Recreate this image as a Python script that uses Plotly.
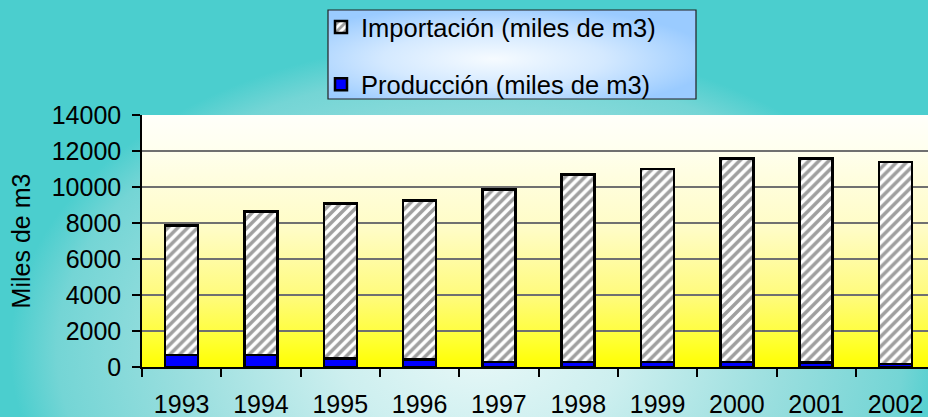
import base64
import plotly.graph_objects as go

# ---- data ----
years = ["1993", "1994", "1995", "1996", "1997", "1998", "1999", "2000", "2001", "2002"]
produccion = [680, 680, 460, 420, 280, 280, 280, 280, 260, 180]
importacion = [7170, 7970, 8620, 8840, 9590, 10410, 10720, 11290, 11310, 11210]
y_ticks = [0, 2000, 4000, 6000, 8000, 10000, 12000, 14000]
name_imp = "Importación (miles de m3)"
name_prod = "Producción (miles de m3)"
y_title = "Miles de m3"

FONT = "Arial, 'Liberation Sans', sans-serif"
W, H = 928, 417
ML, MR, MT, MB = 142, 0, 115, 50
PW, PH = W - ML - MR, H - MT - MB


def svg_uri(svg):
    return "data:image/svg+xml;base64," + base64.b64encode(svg.encode()).decode()


def px_x(px):
    return (px - ML) / PW


def px_y(py):
    return (H - MB - py) / PH


page_svg = f"""<svg xmlns='http://www.w3.org/2000/svg' width='{W}' height='{H}' viewBox='0 0 {W} {H}' preserveAspectRatio='none'>
<defs><radialGradient id='g' gradientUnits='userSpaceOnUse' cx='480' cy='350' r='470'
 gradientTransform='translate(480 350) scale(1 0.66) translate(-480 -350)'>
<stop offset='0' stop-color='#E8F8F8'/><stop offset='0.3' stop-color='#CDEFEF'/>
<stop offset='0.65' stop-color='#98DEDE'/><stop offset='0.9' stop-color='#74D5D5'/>
<stop offset='1' stop-color='#4BCECE'/></radialGradient></defs>
<rect x='0' y='0' width='{W}' height='{H}' fill='url(#g)'/></svg>"""

plot_svg = """<svg xmlns='http://www.w3.org/2000/svg' width='100' height='100' viewBox='0 0 100 100' preserveAspectRatio='none'>
<defs><linearGradient id='p' x1='0' y1='0' x2='0' y2='1'>
<stop offset='0' stop-color='#FFFFFA'/><stop offset='0.12' stop-color='#FFFFF0'/>
<stop offset='0.46' stop-color='#FFFCC4'/><stop offset='0.73' stop-color='#FFFB78'/>
<stop offset='0.9' stop-color='#FFFF30'/><stop offset='1' stop-color='#FFFF00'/>
</linearGradient></defs><rect x='0' y='0' width='100' height='100' fill='url(#p)'/></svg>"""

leg_svg = """<svg xmlns='http://www.w3.org/2000/svg' width='100' height='100' viewBox='0 0 100 100' preserveAspectRatio='none'>
<defs><radialGradient id='l' cx='0.45' cy='0.55' r='0.6'>
<stop offset='0' stop-color='#F6FBFF'/><stop offset='0.5' stop-color='#D4E9FF'/>
<stop offset='1' stop-color='#9ACBFF'/></radialGradient></defs>
<rect x='0' y='0' width='100' height='100' fill='url(#l)'/></svg>"""

fig = go.Figure()
fig.add_trace(go.Bar(
    x=years, y=produccion, name=name_prod,
    marker=dict(color="#0000FF", line=dict(color="black", width=2.5)),
    legendgroup="prod", legendrank=2,
))
fig.add_trace(go.Bar(
    x=years, y=importacion, name=name_imp,
    marker=dict(color="white", line=dict(color="black", width=2.5),
                pattern=dict(shape="/", fgcolor="#404040", bgcolor="white", size=7, solidity=0.5)),
    legendgroup="imp", legendrank=1,
))

# legend box
LX0, LY0, LX1, LY1 = 328, 10, 696, 99

fig.update_layout(
    width=W, height=H, autosize=False,
    margin=dict(l=ML, r=MR, t=MT, b=MB, pad=0, autoexpand=False),
    barmode="stack", bargap=0.584,
    paper_bgcolor="#4BCECE", plot_bgcolor="rgba(0,0,0,0)",
    font=dict(family=FONT, size=25, color="black"),
    showlegend=True,
    legend=dict(
        x=px_x(LX0 - 7), y=px_y(LY0 - 6), xanchor="left", yanchor="top",
        bgcolor="rgba(0,0,0,0)", borderwidth=0,
        font=dict(family=FONT, size=25.5, color="black"),
        traceorder="grouped", tracegroupgap=21, itemwidth=30,
    ),
    xaxis=dict(
        type="category", range=[-0.5, 9.41], automargin=False,
        showgrid=False, showline=True, linecolor="black", linewidth=1.5,
        ticks="outside", tickson="boundaries", ticklen=8, tickcolor="black", tickwidth=1.5,
        tickfont=dict(family=FONT, size=25), ticklabelstandoff=14,
    ),
    yaxis=dict(
        range=[0, 14000], tickvals=y_ticks, tickformat="d", automargin=False,
        showgrid=True, gridcolor="#707070", gridwidth=1.5,
        showline=True, linecolor="black", linewidth=1.5,
        ticks="outside", ticklen=8, tickcolor="black", tickwidth=1.5,
        tickfont=dict(family=FONT, size=25), zeroline=False, ticklabelstandoff=6,
        title=dict(text=y_title, font=dict(family=FONT, size=25), standoff=14),
    ),
    images=[
        dict(source=svg_uri(page_svg), xref="paper", yref="paper",
             x=px_x(0), y=px_y(0), sizex=W / PW, sizey=H / PH,
             xanchor="left", yanchor="top", sizing="stretch", layer="below"),
        dict(source=svg_uri(leg_svg), xref="paper", yref="paper",
             x=px_x(LX0), y=px_y(LY0), sizex=(LX1 - LX0) / PW, sizey=(LY1 - LY0) / PH,
             xanchor="left", yanchor="top", sizing="stretch", layer="below"),
        dict(source=svg_uri(plot_svg), xref="paper", yref="paper",
             x=0, y=1, sizex=1, sizey=1,
             xanchor="left", yanchor="top", sizing="stretch", layer="below"),
    ],
    shapes=[
        dict(type="rect", xref="paper", yref="paper",
             x0=px_x(LX0), x1=px_x(LX1), y0=px_y(LY1), y1=px_y(LY0),
             line=dict(color="#202020", width=1.2), fillcolor="rgba(0,0,0,0)", layer="above"),
    ],
)

fig.write_html(
    "out.html",
    config={"displayModeBar": False},
    post_script="document.body.style.margin='0';document.body.style.overflow='hidden';",
)
